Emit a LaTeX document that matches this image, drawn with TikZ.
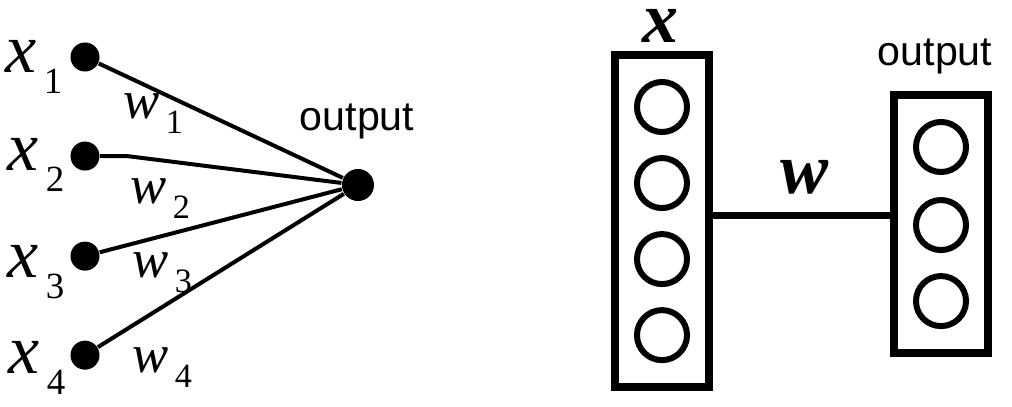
\documentclass[tikz,border=0pt]{standalone}
\usepackage{fontspec}
\setmainfont{Liberation Serif}
\setsansfont{Liberation Sans}
\usepackage{tikz}
\usetikzlibrary{positioning, calc, fit}
\tikzstyle{dot} = [circle, fill=black, inner sep=0pt, minimum size=0.29cm]
\tikzstyle{outdot} = [circle, fill=black, inner sep=0pt, minimum size=0.32cm]
\tikzstyle{unit} = [circle, draw=black, line width=0.06cm, inner sep=0pt, minimum size=0.5cm]
\tikzstyle{layer} = [rectangle, draw=black, line width=0.08cm, outer sep=0pt, inner xsep=0.19cm, inner ysep=0.24cm]
\tikzstyle{link} = [line width=0.04cm]
\tikzstyle{bar} = [line width=0.07cm]
\tikzstyle{lab} = [inner sep=0pt, anchor=base west]
\tikzstyle{bold} = [inner sep=0pt, anchor=base, font=\fontsize{20.5}{21}\selectfont\bfseries\itshape]
\tikzstyle{word} = [inner sep=0pt, anchor=base, font=\sffamily\fontsize{11.7}{12}\selectfont]
\newcommand{\xlab}[1]{{\fontsize{19.9}{20}\selectfont\itshape x}\kern0.07cm\raisebox{-0.21cm}{\fontsize{10.5}{11}\selectfont #1}}
\newcommand{\wlab}[1]{{\fontsize{15.4}{16}\selectfont\itshape w}\kern0.06cm\raisebox{-0.155cm}{\fontsize{9.7}{10}\selectfont #1}}
\begin{document}
\begin{tikzpicture}[x=0.01cm, y=-0.01cm, node distance=0.99cm, on grid]

\useasboundingbox (0,0) rectangle (1012,406);

% Inputs
\node (x1) [dot] at (85,57) {};
\node (x2) [dot, below=of x1] {};
\node (x3) [dot, below=1cm of x2] {};
\node (x4) [dot, below=of x3] {};

% Output
\node (out) [outdot] at (358,185) {};

% Input labels
\node (lx1) [lab] at (5,72) {\xlab{1}};
\node (lx2) [lab] at (7,170) {\xlab{2}};
\node (lx3) [lab] at (7,277) {\xlab{3}};
\node (lx4) [lab] at (8,373) {\xlab{4}};

% Weight labels
\node (lw1) [lab] at (123,118) {\wlab{1}};
\node (lw2) [lab] at (130,203) {\wlab{2}};
\node (lw3) [lab] at (132,277) {\wlab{3}};
\node (lw4) [lab] at (132,372) {\wlab{4}};

\node (lout) [word] at (357,130) {output};

% Connections
\draw [link] (x1) -- (out);
\draw [link] (x2) -- ++(42,0) -- (out);
\draw [link] (x3) -- (out);
\draw [link] (x4) -- (out);

% Input layer
\node (in1) [unit] at (662,107) {};
\node (in2) [unit, below=0.76cm of in1] {};
\node (in3) [unit, below=0.76cm of in2] {};
\node (in4) [unit, below=0.76cm of in3] {};
\node (inbox) [layer, fit=(in1)(in4)] {};

% Output layer
\node (o1) [unit] at (941,147) {};
\node (o2) [unit, below=0.78cm of o1] {};
\node (o3) [unit, below=0.76cm of o2] {};
\node (outbox) [layer, fit=(o1)(o3)] {};

% Layer labels
\node (lx) [bold] at (661,42) {x};
\node (lw) [bold] at (805,193) {w};
\node (lout2) [word] at (935,65) {output};

% Weights
\coordinate (wl) at ([yshift=0.06cm]inbox.east);
\draw [bar] (wl) -- (wl -| outbox.west);

\end{tikzpicture}
\end{document}
